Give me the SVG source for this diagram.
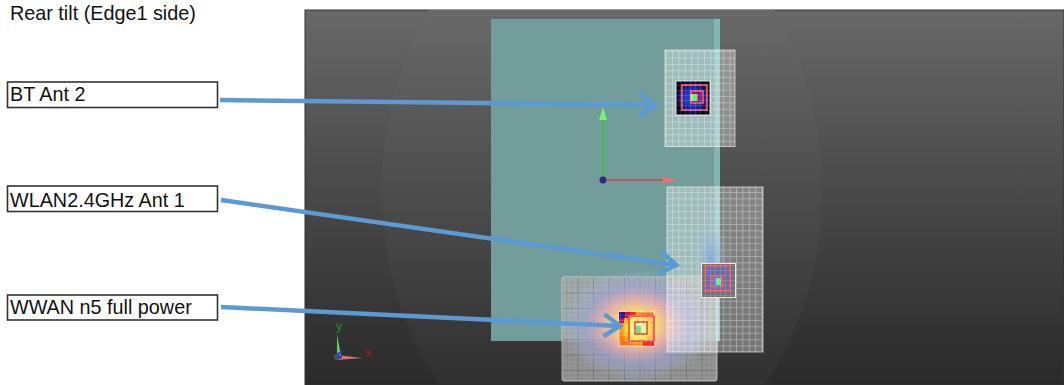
<svg xmlns="http://www.w3.org/2000/svg" width="1064" height="385" viewBox="0 0 1064 385">
<style>
text{font-family:"Liberation Sans",Arial,sans-serif;font-size:19.800px;fill:#111}
.box{fill:#fff;stroke:#333;stroke-width:1.600}
.conn{fill:none;stroke:#5b9bd5;stroke-width:4.500;marker-end:url(#arrow)}
.red{fill:none;stroke:#f0525a;stroke-width:1.800}
.edge{fill:none;stroke:#fff;stroke-opacity:.6}
</style>
<defs>
<linearGradient id="bg" gradientUnits="userSpaceOnUse" x1="0" y1="10" x2="0" y2="385"><stop offset="0" stop-color="#686868"/><stop offset=".5" stop-color="#484848"/><stop offset="1" stop-color="#2a2a2a"/></linearGradient>
<linearGradient id="bg2" gradientUnits="userSpaceOnUse" x1="0" y1="10" x2="0" y2="385"><stop offset="0" stop-color="#696969"/><stop offset=".5" stop-color="#4c4c4c"/><stop offset="1" stop-color="#303030"/></linearGradient>
<clipPath id="vp"><rect x="305" y="10" width="759" height="375"/></clipPath>
<pattern id="fine" width="6.400" height="6.400" patternUnits="userSpaceOnUse"><rect width="6.400" height="6.400" fill="#fff" fill-opacity=".32"/><path d="M0 0H6.400M0 0V6.400" stroke="#fff" stroke-opacity=".42" stroke-width="1.500"/></pattern>
<pattern id="coarse" width="15.500" height="15.500" patternUnits="userSpaceOnUse" x="562" y="277"><rect width="15.500" height="15.500" fill="#b0b0b0" fill-opacity=".78"/><path d="M0 5H15.500M0 10H15.500M5 0V15.500M10 0V15.500" stroke="#666" stroke-opacity=".25" stroke-width=".7"/><path d="M0 0H15.500M0 0V15.500" stroke="#333" stroke-opacity=".65" stroke-width=".9"/></pattern>
<radialGradient id="halo"><stop offset="0" stop-color="#ffd020" stop-opacity=".98"/><stop offset=".26" stop-color="#ffdc70" stop-opacity=".92"/><stop offset=".46" stop-color="#eeb0b0" stop-opacity=".8"/><stop offset=".7" stop-color="#a0a4dc" stop-opacity=".55"/><stop offset="1" stop-color="#a8c0e0" stop-opacity="0"/></radialGradient>
<radialGradient id="halo2"><stop offset="0" stop-color="#7f9ce0" stop-opacity=".7"/><stop offset="1" stop-color="#b0c8e8" stop-opacity="0"/></radialGradient>
<radialGradient id="hot1"><stop offset="0" stop-color="#fff8a0"/><stop offset=".6" stop-color="#ffdc20"/><stop offset="1" stop-color="#fc7010"/></radialGradient>
<radialGradient id="hot2"><stop offset="0" stop-color="#2060f0"/><stop offset=".7" stop-color="#1420a0"/><stop offset="1" stop-color="#080818"/></radialGradient>
<pattern id="cell" width="5" height="5" patternUnits="userSpaceOnUse"><path d="M0 0H5M0 0V5" stroke="#fff" stroke-opacity=".3" stroke-width=".8"/></pattern>
<marker id="arrow" markerUnits="userSpaceOnUse" markerWidth="24" markerHeight="28" refX="19" refY="14" orient="auto"><path d="M3 3L19 14L3 25" fill="none" stroke="#5b9bd5" stroke-width="4.500"/></marker>
</defs>

<g id="viewport">
<rect x="305" y="10" width="759" height="375" fill="url(#bg)" stroke="#333"/>
<ellipse cx="602" cy="190" rx="220" ry="290" fill="url(#bg2)" clip-path="url(#vp)"/>
<rect x="491" y="19" width="229" height="322" fill="#729d9b"/>
<rect x="714" y="19" width="6" height="322" fill="#7fb8b4"/>
</g>

<g id="mesh-wwan">
<rect x="562" y="277" width="155" height="104" rx="2" fill="url(#coarse)"/>
<rect x="562" y="277" width="155" height="104" rx="2" class="edge"/>
<ellipse cx="637" cy="325" rx="76" ry="56" fill="url(#halo)"/>
</g>

<g id="mesh-wlan">
<rect x="667" y="187" width="96" height="165" fill="url(#fine)"/>
<rect x="667" y="187" width="96" height="165" class="edge"/>
<ellipse cx="711" cy="258" rx="18" ry="38" fill="url(#halo2)"/>
<rect x="701.500" y="263.500" width="34" height="34" fill="#6f737e" stroke="#fff" stroke-opacity=".8"/>
<rect x="705" y="266" width="25" height="25" fill="#5f6fb8" fill-opacity=".75"/>
<rect x="705" y="266" width="25" height="25" class="red"/>
<rect x="711" y="276" width="12" height="11.500" fill="#6a78c0"/>
<rect x="711" y="276" width="12" height="11.500" class="red"/>
<rect x="716" y="278" width="5" height="7" fill="#70e890"/>
<rect x="701.500" y="263.500" width="34" height="34" fill="url(#cell)"/>
</g>

<g id="mesh-bt">
<rect x="665" y="50" width="70" height="96.500" fill="url(#fine)"/>
<rect x="665" y="50" width="70" height="96.500" class="edge"/>
<rect x="676" y="81" width="34" height="34" fill="url(#hot2)" stroke="#fff" stroke-opacity=".8"/>
<rect x="682" y="85" width="25" height="25" class="red"/>
<rect x="691" y="91" width="12" height="12" fill="#7a1d80"/>
<rect x="691" y="91" width="12" height="12" class="red"/>
<rect x="690.500" y="94" width="7" height="7" fill="#c8e860"/>
<rect x="693" y="94" width="4" height="7" fill="#50f070"/>
<rect x="676" y="81" width="34" height="34" fill="url(#cell)"/>
</g>

<g id="heat-wwan">
<rect x="619" y="312" width="35" height="34" fill="url(#hot1)" stroke="#fff" stroke-opacity=".6"/>
<rect x="619" y="312" width="6" height="6" fill="#3010a0"/>
<rect x="625" y="312" width="6" height="6" fill="#d01040"/>
<rect x="631" y="312" width="5" height="5" fill="#e83020"/>
<rect x="619" y="318" width="5" height="5" fill="#c01060"/>
<rect x="643" y="341" width="11" height="5" fill="#e03020"/>
<rect x="629" y="316" width="25" height="25" fill="#fff890" fill-opacity=".5"/>
<rect x="629" y="316" width="25" height="25" class="red"/>
<rect x="635" y="322" width="12" height="12" fill="#f4f0a0"/>
<rect x="635" y="322" width="12" height="12" class="red"/>
<rect x="636" y="326" width="5" height="7" fill="#60e888"/>
<rect x="619" y="312" width="35" height="34" fill="url(#cell)"/>
</g>

<g id="axes-model">
<path d="M603 180V118" stroke="#28d428" stroke-width="1.500"/>
<path d="M603 107.500L599 120H607Z" fill="#7cf070"/>
<path d="M603 180H665" stroke="#d04848" stroke-width="1.500"/>
<path d="M678 180L663 176.500V183.500Z" fill="#f07070"/>
<circle cx="603" cy="180" r="3.500" fill="#2a2a88"/>
</g>

<g id="axes-mini">
<path d="M337 356L337 334L341 356Z" fill="#60d060"/>
<path d="M337 355L362 358L337 360Z" fill="#e07070"/>
<circle cx="337" cy="357" r="3" fill="#555"/>
<path d="M337 355L342 351" stroke="#2040e0" stroke-width="2"/>
<path d="M337 357H342" stroke="#2040e0" stroke-width="3"/>
<text x="336" y="330" style="font-size:13px;fill:#1a8a1a">y</text>
<text x="365" y="357" style="font-size:13px;fill:#a01818">x</text>
</g>

<text id="title" x="10" y="20">Rear tilt (Edge1 side)</text>

<g id="label-bt"><rect class="box" x="7.500" y="82" width="210" height="25.500"/><text x="10" y="101">BT Ant 2</text></g>
<g id="label-wlan"><rect class="box" x="7.500" y="186" width="210" height="25.500"/><text x="10" y="207">WLAN2.4GHz Ant 1</text></g>
<g id="label-wwan"><rect class="box" x="7.500" y="295" width="210" height="25"/><text x="10" y="314">WWAN n5 full power</text></g>

<g id="connectors">
<path class="conn" d="M220 100L655 105"/>
<path class="conn" d="M221 200L676 265"/>
<path class="conn" d="M221 307L620 326"/>
</g>
</svg>
